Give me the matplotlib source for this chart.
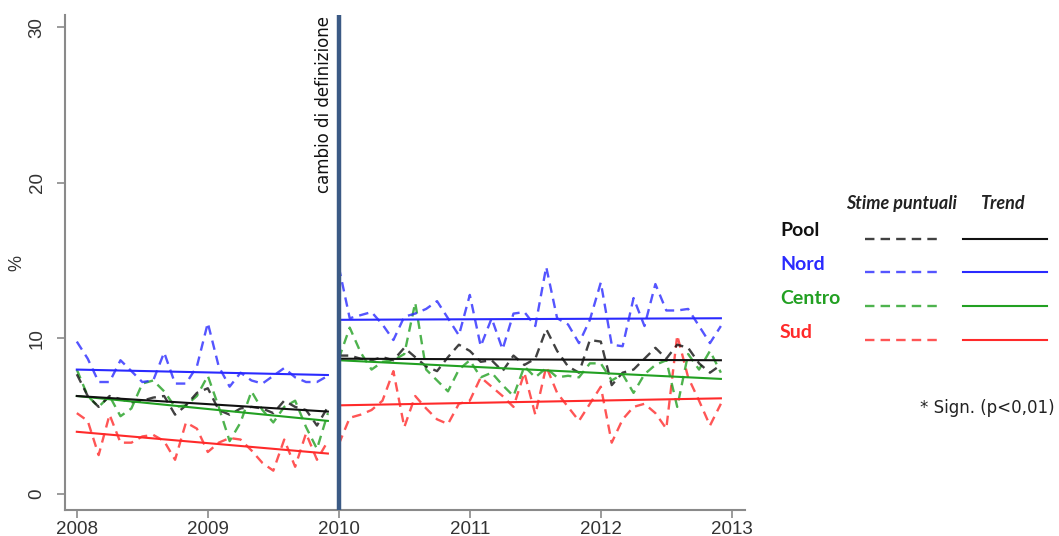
import numpy as np
import matplotlib.pyplot as plt
from matplotlib.lines import Line2D

# monthly estimates, two periods split by the change of definition
months1 = 2008 + np.arange(24) / 12
months2 = 2010 + np.arange(36) / 12

pool_1 = [7.7, 6.3, 5.6, 6.3, 6.1, 5.9, 6.0, 6.2, 6.3, 5.1, 5.7, 6.5,
          6.8, 5.4, 5.1, 5.5, 5.6, 5.5, 5.2, 6.0, 5.6, 5.4, 4.4, 5.6]
nord_1 = [9.8, 8.7, 7.2, 7.2, 8.6, 7.9, 7.2, 7.3, 9.1, 7.1, 7.1, 8.2,
          11.0, 8.2, 6.9, 7.8, 7.3, 7.1, 7.6, 8.1, 7.5, 7.2, 7.2, 7.6]
centro_1 = [8.0, 6.3, 5.6, 6.3, 5.0, 5.5, 7.1, 7.3, 6.6, 5.6, 5.7, 6.3,
            7.6, 5.6, 3.4, 4.6, 6.6, 5.4, 4.6, 5.6, 6.0, 4.3, 2.9, 5.2]
sud_1 = [5.2, 4.7, 2.5, 5.1, 3.3, 3.3, 3.7, 3.8, 3.4, 2.2, 4.6, 4.2,
         2.7, 3.3, 3.6, 3.5, 2.8, 2.0, 1.5, 3.5, 1.75, 3.9, 2.2, 3.4]

pool_2 = [8.9, 8.9, 8.7, 8.6, 8.8, 8.6, 9.4, 8.8, 8.2, 7.9, 8.8, 9.6,
          9.2, 8.5, 8.6, 7.9, 8.9, 8.3, 8.7, 10.6, 9.2, 8.2, 7.8, 9.9,
          9.8, 7.0, 7.8, 8.0, 8.7, 9.4, 8.7, 9.6, 9.4, 8.4, 7.8, 8.3]
nord_2 = [14.6, 11.3, 11.5, 11.7, 10.9, 9.9, 11.4, 11.6, 11.9, 12.4, 11.3, 10.2,
          12.8, 9.5, 11.3, 9.3, 11.6, 11.7, 10.8, 14.6, 11.3, 10.9, 9.7, 11.2,
          13.6, 9.6, 9.5, 12.6, 10.8, 13.5, 11.8, 11.8, 11.9, 10.8, 9.7, 10.8]
centro_2 = [8.7, 10.7, 9.1, 8.0, 8.5, 8.6, 9.0, 12.3, 8.0, 7.3, 6.6, 8.0,
            8.6, 7.5, 7.8, 7.0, 6.3, 8.2, 7.5, 8.1, 7.5, 7.6, 7.5, 8.4,
            8.4, 7.3, 7.7, 6.5, 7.7, 8.3, 8.6, 5.6, 9.0, 8.0, 9.2, 7.8]
sud_2 = [3.2, 4.9, 5.1, 5.4, 6.0, 7.9, 4.3, 6.3, 5.5, 4.8, 4.5, 5.8,
         6.0, 7.5, 6.9, 6.3, 5.6, 7.8, 5.1, 8.2, 6.5, 5.6, 4.7, 5.8,
         6.9, 3.3, 4.8, 5.6, 5.8, 5.2, 4.2, 10.2, 7.5, 6.0, 4.4, 5.8]

# trend lines: start / end value in each period
pool_trend = [6.3, 5.3, 8.7, 8.6]
nord_trend = [8.0, 7.65, 11.2, 11.3]
centro_trend = [6.3, 4.7, 8.6, 7.4]
sud_trend = [4.0, 2.6, 5.7, 6.15]

names = ['Pool', 'Nord', 'Centro', 'Sud']
colors = ['#111111', '#2a2aff', '#22a022', '#ff2a2a']
series1 = [pool_1, nord_1, centro_1, sud_1]
series2 = [pool_2, nord_2, centro_2, sud_2]
trends = [pool_trend, nord_trend, centro_trend, sud_trend]
year_ticks = [2008, 2009, 2010, 2011, 2012, 2013]
pct_ticks = [0, 10, 20, 30]

fig = plt.figure(figsize=(10.59, 5.36), dpi=100)
ax = fig.add_axes([0.0614, 0.0485, 0.642, 0.9235])

dash = (4, 2.6)
order = [3, 2, 0, 1]
for k in order:
    ax.plot(months1, series1[k], color=colors[k], lw=1.7, dashes=dash, alpha=0.8)
    ax.plot(months2, series2[k], color=colors[k], lw=1.7, dashes=dash, alpha=0.8)
for k in order:
    t = trends[k]
    ax.plot([months1[0], months1[-1]], t[0:2], color=colors[k], lw=1.5)
    ax.plot([months2[0], months2[-1]], t[2:4], color=colors[k], lw=1.5)

ax.axvline(2010, color='#3b5a85', lw=3.2, zorder=5)
ax.text(2009.955, 30.75, 'cambio di definizione', rotation=90, ha='right', va='top',
        fontsize=12, family='DejaVu Sans', color='#111111')

ax.set_xlim(2007.91, 2013.1)
ax.set_ylim(-1.03, 30.8)
ax.set_xticks(year_ticks)
ax.set_yticks(pct_ticks)
for s in ['top', 'right']:
    ax.spines[s].set_visible(False)
for s in ['left', 'bottom']:
    ax.spines[s].set_color('#8a8a8a')
    ax.spines[s].set_linewidth(1.5)
ax.tick_params(colors='#8a8a8a', width=1.2, length=6, labelcolor='#333333',
               labelsize=13.5, pad=2)
ax.tick_params(axis='y', labelrotation=90, pad=8)
for lab in ax.get_yticklabels():
    lab.set_va('center')
for lab in ax.get_xticklabels() + ax.get_yticklabels():
    lab.set_family('Liberation Sans')
ax.set_ylabel('%', fontsize=13, family='Liberation Sans', color='#333333')
ax.yaxis.set_label_coords(-0.058, 0.5)

# legend drawn on the figure
W, H = 1059, 536
fig.text(901 / W, 1 - 203 / H, 'Stime puntuali', ha='center', va='center',
         fontsize=13, family='Lato', weight='bold', style='italic', color='#222222')
fig.text(1002 / W, 1 - 203 / H, 'Trend', ha='center', va='center',
         fontsize=13, family='Lato', weight='bold', style='italic', color='#222222')
label_y = [230, 265, 298, 332]
line_y = [239, 272, 306, 340]
for k, name in enumerate(names):
    fig.text(780 / W, 1 - label_y[k] / H, name, ha='left', va='center',
             fontsize=14, family='Lato', weight='bold', color=colors[k])
    fig.add_artist(Line2D([865 / W, 937 / W], [1 - line_y[k] / H] * 2,
                          color=colors[k], lw=1.7, dashes=dash, alpha=0.8))
    fig.add_artist(Line2D([963 / W, 1047 / W], [1 - line_y[k] / H] * 2,
                          color=colors[k], lw=1.5))
fig.text(920 / W, 1 - 408 / H, '* Sign. (p<0,01)', ha='left', va='center',
         fontsize=12, family='DejaVu Sans', color='#222222')

fig.savefig('out.png', dpi=100)
